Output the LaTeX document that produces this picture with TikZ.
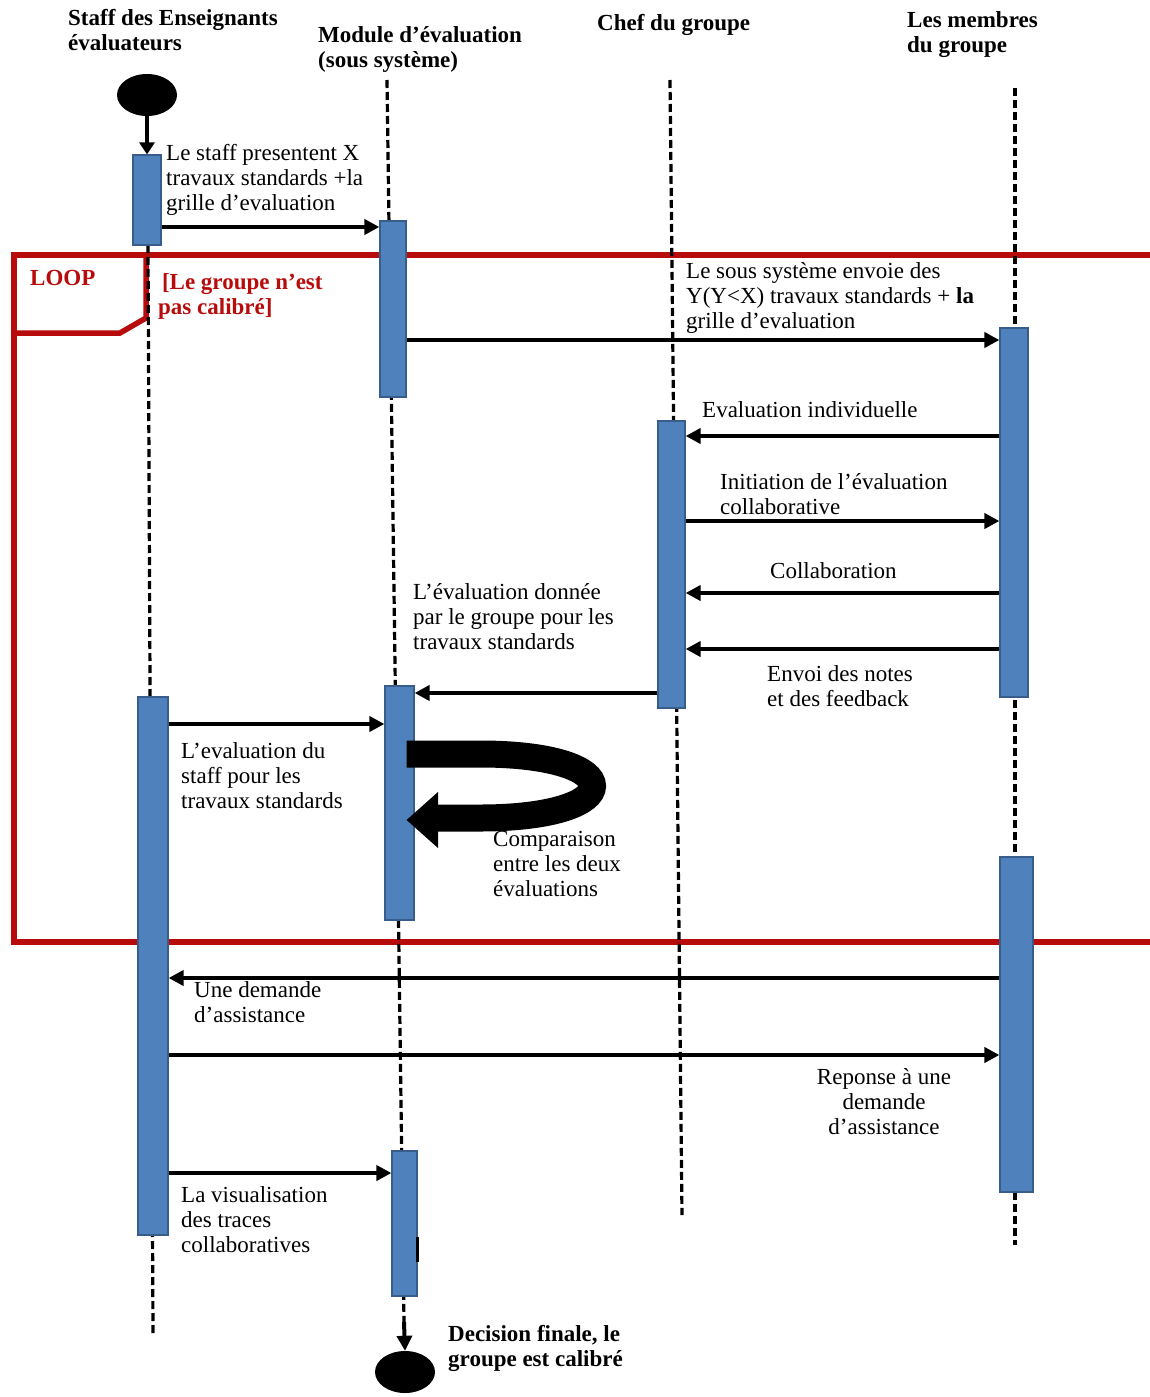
\documentclass[tikz,border=0pt]{standalone}
\usepackage{fontspec}
\setmainfont{Liberation Serif}
\usetikzlibrary{arrows.meta,fit,shapes.geometric}
\definecolor{barblue}{RGB}{79,129,189}
\definecolor{barline}{RGB}{56,93,138}
\definecolor{loopred}{RGB}{184,12,12}
\begin{document}
\begin{tikzpicture}[x=1pt,y=-1pt,
  bar/.style={draw=barline, fill=barblue, line width=1.2pt, inner sep=0pt, rectangle},
  life/.style={line width=3.2pt, dash pattern=on 8pt off 4pt},
  msg/.style={line width=4pt, -{Triangle[length=15pt,width=15pt]}},
  frame/.style={draw=loopred, line width=5.5pt, line join=miter},
  lbl/.style={anchor=north west, inner sep=0pt, align=left, font=\fontsize{23}{25}\selectfont},
  ttl/.style={anchor=north west, inner sep=0pt, align=left, font=\fontsize{23}{25}\selectfont\bfseries},
  dot/.style={ellipse, fill=black, minimum width=60pt, minimum height=42pt, inner sep=0pt}
]
\useasboundingbox (0,0) rectangle (1149,1397);
\fill[white] (0,0) rectangle (1149,1397);

% loop frame
\draw[frame] (1160,255) -- (14,255) -- (14,942) -- (1160,942);
\draw[frame] (14,333) -- (120,333) -- (146,318) -- (146,255);

% start / end markers
\node[dot] (start) at (147,95) {};
\node[dot] (finish) at (405,1372) {};

% lifeline ends
\coordinate (sTop) at (148,245);
\coordinate (sEnd) at (153,1333);
\coordinate (mTop) at (387,80);
\coordinate (mEnd) at (404,1322);
\coordinate (cTop) at (670,80);
\coordinate (cEnd) at (682,1215);
\coordinate (gTop) at (1015,88);
\coordinate (gEnd) at (1015,1245);

\draw[life] (sTop) -- (sEnd);
\draw[life] (mTop) -- (mEnd);
\draw[life] (cTop) -- (cEnd);
\draw[life] (gTop) -- (gEnd);

% activation bars
\node[bar, fit={(133,155) (161,245)}] (sb1) {};
\node[bar, fit={(138,697) (168,1235)}] (sb2) {};
\node[bar, fit={(380,221) (406,397)}] (mb1) {};
\node[bar, fit={(385,686) (414,920)}] (mb2) {};
\node[bar, fit={(392,1151) (417,1296)}] (mb3) {};
\node[bar, fit={(658,421) (685,708)}] (cb1) {};
\node[bar, fit={(1000,328) (1028,697)}] (gb1) {};
\node[bar, fit={(1000,857) (1033,1192)}] (gb2) {};

\draw[line width=2.5pt] (mb3.east |- 0,1237) -- (mb3.east |- 0,1262);

% start and end arrows
\draw[line width=4pt, -{Triangle[length=12pt,width=15pt]}] (start.south) -- (sb1.north);
\draw[line width=4pt, -{Triangle[length=15pt,width=15pt]}] (mEnd) -- (finish.north);

% messages
\draw[msg] (sb1.east |- 0,227) -- (mb1.west |- 0,227);
\draw[msg] (mb1.east |- 0,340) -- (gb1.west |- 0,340);
\draw[msg] (gb1.west |- 0,436) -- (cb1.east |- 0,436);
\draw[msg] (cb1.east |- 0,521) -- (gb1.west |- 0,521);
\draw[msg] (gb1.west |- 0,593) -- (cb1.east |- 0,593);
\draw[msg] (gb1.west |- 0,649) -- (cb1.east |- 0,649);
\draw[msg] (cb1.west |- 0,693) -- (mb2.east |- 0,693);
\draw[msg] (sb2.east |- 0,724) -- (mb2.west |- 0,724);
\draw[msg] (gb2.west |- 0,978) -- (sb2.east |- 0,978);
\draw[msg] (sb2.east |- 0,1055) -- (gb2.west |- 0,1055);
\draw[msg] (sb2.east |- 0,1173) -- (mb3.west |- 0,1173);

% self message (thick curved arrow)
\draw[line width=27pt] ([xshift=-8pt]mb2.east |- 0,754) -- (480,754)
  .. controls (630,754) and (630,818) .. (480,818) -- (436,818);
\fill ([xshift=-8pt]mb2.east |- 0,820) -- (438,792) -- (438,848) -- cycle;

% titles
\node[ttl] (t1) at (68,9) {Staff des Enseignants\\évaluateurs};
\node[ttl] (t2) at (318,26) {Module d’évaluation\\(sous système)};
\node[ttl] (t3) at (597,14) {Chef du groupe};
\node[ttl] (t4) at (907,11) {Les membres\\du groupe};

% loop labels
\node[ttl, text=loopred] (loop) at (30,270) {LOOP};
\node[ttl, text=loopred] (guard) at (158,273) {\,[Le groupe n’est\\pas calibré]};

% message labels
\node[lbl] (l1) at (166,144) {Le staff presentent X\\travaux standards +la\\grille d’evaluation};
\node[lbl] (l2) at (686,262) {Le sous système envoie des\\Y(Y<X) travaux standards + \textbf{la}\\grille d’evaluation};
\node[lbl] (l3) at (702,401) {Evaluation individuelle};
\node[lbl] (l4) at (720,473) {Initiation de l’évaluation\\collaborative};
\node[lbl] (l5) at (770,562) {Collaboration};
\node[lbl] (l6) at (413,583) {L’évaluation donnée\\par le groupe pour les\\travaux standards};
\node[lbl] (l7) at (767,665) {Envoi des notes\\et des feedback};
\node[lbl] (l8) at (181,742) {L’evaluation du\\staff pour les\\travaux standards};
\node[lbl] (l9) at (493,831) {Comparaison\\entre les deux\\évaluations};
\node[lbl] (l10) at (194,981) {Une demande\\d’assistance};
\node[lbl, anchor=north, align=center] (l11) at (884,1068) {Reponse à une\\demande\\d’assistance};
\node[lbl] (l12) at (181,1186) {La visualisation\\des traces\\collaboratives};
\node[ttl] (l13) at (448,1325) {Decision finale, le\\groupe est calibré};
\end{tikzpicture}
\end{document}
